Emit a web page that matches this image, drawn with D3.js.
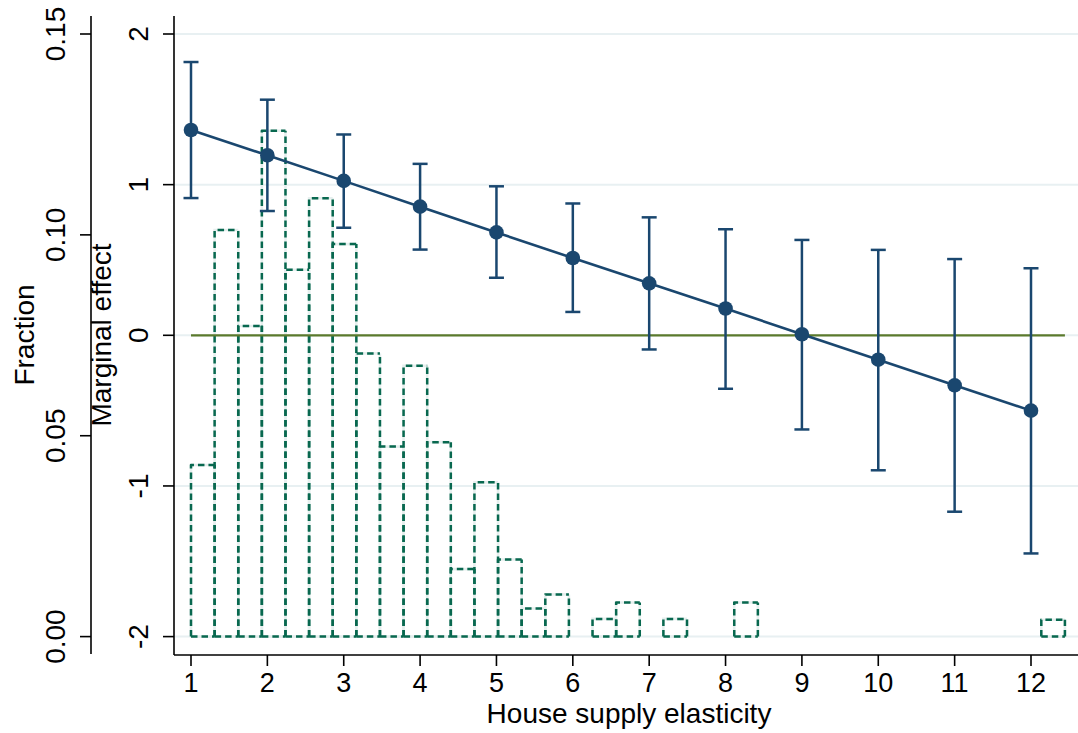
<!DOCTYPE html>
<html>
<head>
<meta charset="utf-8">
<script src="https://cdn.jsdelivr.net/npm/d3@7"></script>
<style>
  html, body { margin: 0; padding: 0; background: #fff; }
  svg { display: block; font-family: "Liberation Sans", Arial, Helvetica, sans-serif; }
</style>
</head>
<body>
<svg id="chart" width="1078" height="733"></svg>
<script>
// ---- data ----
const elasticity = [1, 2, 3, 4, 5, 6, 7, 8, 9, 10, 11, 12];
const marginalEffect = [1.363, 1.195, 1.025, 0.854, 0.683, 0.513, 0.345, 0.178, 0.007, -0.162, -0.332, -0.500];
const ciLower = [0.911, 0.825, 0.714, 0.569, 0.382, 0.155, -0.094, -0.355, -0.625, -0.896, -1.171, -1.448];
const ciUpper = [1.814, 1.564, 1.333, 1.138, 0.989, 0.875, 0.783, 0.704, 0.633, 0.567, 0.506, 0.445];

const histStart = 1;
const histBinWidth = 0.3093;
const histFraction = [
  0.0427, 0.1012, 0.0773, 0.1259, 0.0913, 0.1091, 0.0977, 0.0705, 0.0473, 0.0674,
  0.0484, 0.0168, 0.0384, 0.0192, 0.0070, 0.0105, 0.0000, 0.0044, 0.0085, 0.0000,
  0.0044, 0.0000, 0.0000, 0.0085, 0.0000, 0.0000, 0.0000, 0.0000, 0.0000, 0.0000,
  0.0000, 0.0000, 0.0000, 0.0000, 0.0000, 0.0000, 0.0042
];

const xTicks = [1, 2, 3, 4, 5, 6, 7, 8, 9, 10, 11, 12];
const meTicks = [-2, -1, 0, 1, 2];
const fracTicks = [0, 0.05, 0.10, 0.15];
const fracTickLabels = ["0.00", "0.05", "0.10", "0.15"];

// ---- layout ----
const svg = d3.select("#chart");
const plotLeft = 174, plotRight = 1078, plotTop = 16, plotBottom = 655;
const fracAxisX = 91;

const x = d3.scaleLinear().domain([1, 12]).range([191, 1031]);
const yME = d3.scaleLinear().domain([-2, 2]).range([636.6, 34]);
const yFrac = d3.scaleLinear().domain([0, 0.15]).range([636.6, 34]);

const navy = "#1a476f";
const histColor = "#08684f";
const zeroColor = "#5b7a2c";
const gridColor = "#e8f0f2";
const fontSize = 27;

// gridlines
svg.append("g").selectAll("line").data(meTicks).join("line")
  .attr("x1", plotLeft).attr("x2", plotRight)
  .attr("y1", d => yME(d)).attr("y2", d => yME(d))
  .attr("stroke", gridColor).attr("stroke-width", 2);

// histogram bars
const bins = histFraction.map((f, i) => ({
  x0: histStart + i * histBinWidth,
  x1: histStart + (i + 1) * histBinWidth,
  f: f
})).filter(b => b.f > 0);

// every vertical edge drawn bottom -> top so shared edges keep the same dash phase
const barPath = b => {
  const xa = x(b.x0), xb = x(b.x1), yt = yFrac(b.f), yb = yFrac(0);
  return `M${xa},${yb}L${xa},${yt}L${xb},${yt}` +
         `M${xb},${yb}L${xb},${yt}` +
         `M${xa},${yb}L${xb},${yb}`;
};
const hist = svg.append("g");
hist.selectAll("path.under").data(bins).join("path")
  .attr("class", "under")
  .attr("d", barPath)
  .attr("fill", "none").attr("stroke", "#e6efee").attr("stroke-width", 2.6);
hist.selectAll("path.bar").data(bins).join("path")
  .attr("class", "bar")
  .attr("d", barPath)
  .attr("fill", "none").attr("stroke", histColor).attr("stroke-width", 2.5)
  .attr("stroke-dasharray", "6.5,4").attr("stroke-linejoin", "round");

// zero line spanning histogram range
const histEnd = histStart + histFraction.length * histBinWidth;
svg.append("line")
  .attr("x1", x(histStart)).attr("x2", x(histEnd))
  .attr("y1", yME(0)).attr("y2", yME(0))
  .attr("stroke", zeroColor).attr("stroke-width", 2.2);

// error bars
const pts = elasticity.map((e, i) => ({ e, m: marginalEffect[i], lo: ciLower[i], hi: ciUpper[i] }));
const eb = svg.append("g").attr("stroke", navy).attr("stroke-width", 2.5);
eb.selectAll("line.v").data(pts).join("line").attr("class", "v")
  .attr("x1", d => x(d.e)).attr("x2", d => x(d.e))
  .attr("y1", d => yME(d.lo)).attr("y2", d => yME(d.hi));
eb.selectAll("line.t").data(pts).join("line").attr("class", "t")
  .attr("x1", d => x(d.e) - 7.5).attr("x2", d => x(d.e) + 7.5)
  .attr("y1", d => yME(d.hi)).attr("y2", d => yME(d.hi));
eb.selectAll("line.b").data(pts).join("line").attr("class", "b")
  .attr("x1", d => x(d.e) - 7.5).attr("x2", d => x(d.e) + 7.5)
  .attr("y1", d => yME(d.lo)).attr("y2", d => yME(d.lo));

// connecting line
svg.append("path").datum(pts)
  .attr("d", d3.line().x(d => x(d.e)).y(d => yME(d.m)))
  .attr("fill", "none").attr("stroke", navy).attr("stroke-width", 2.6);

// points
svg.append("g").selectAll("circle").data(pts).join("circle")
  .attr("cx", d => x(d.e)).attr("cy", d => yME(d.m)).attr("r", 7.3)
  .attr("fill", navy);

// ---- axes ----
const axisStroke = "#000";

// bottom x axis
const xAxis = svg.append("g");
xAxis.append("line").attr("x1", plotLeft).attr("x2", plotRight)
  .attr("y1", plotBottom).attr("y2", plotBottom)
  .attr("stroke", axisStroke).attr("stroke-width", 1.6);
xAxis.selectAll("line.tick").data(xTicks).join("line").attr("class", "tick")
  .attr("x1", d => x(d)).attr("x2", d => x(d))
  .attr("y1", plotBottom).attr("y2", plotBottom + 11)
  .attr("stroke", axisStroke).attr("stroke-width", 1.6);
xAxis.selectAll("text").data(xTicks).join("text")
  .attr("x", d => x(d)).attr("y", 692)
  .attr("text-anchor", "middle").attr("font-size", fontSize)
  .text(d => d);
svg.append("text").attr("x", (plotLeft + plotRight) / 2 + 3).attr("y", 723)
  .attr("text-anchor", "middle").attr("font-size", 28)
  .text("House supply elasticity");

// marginal effect axis (inner)
const meAxis = svg.append("g");
meAxis.append("line").attr("x1", plotLeft).attr("x2", plotLeft)
  .attr("y1", plotTop).attr("y2", plotBottom)
  .attr("stroke", axisStroke).attr("stroke-width", 1.6);
meAxis.selectAll("line.tick").data(meTicks).join("line").attr("class", "tick")
  .attr("x1", plotLeft - 11).attr("x2", plotLeft)
  .attr("y1", d => yME(d)).attr("y2", d => yME(d))
  .attr("stroke", axisStroke).attr("stroke-width", 1.6);
meAxis.selectAll("text").data(meTicks).join("text")
  .attr("transform", d => `translate(148,${yME(d)}) rotate(-90)`)
  .attr("text-anchor", "middle").attr("font-size", 28)
  .text(d => d < 0 ? "-" + Math.abs(d) : d);
svg.append("text")
  .attr("transform", `translate(111,335) rotate(-90)`)
  .attr("text-anchor", "middle").attr("font-size", 28)
  .text("Marginal effect");

// fraction axis (outer)
const frAxis = svg.append("g");
frAxis.append("line").attr("x1", fracAxisX).attr("x2", fracAxisX)
  .attr("y1", plotTop).attr("y2", plotBottom - 1)
  .attr("stroke", axisStroke).attr("stroke-width", 1.6);
frAxis.selectAll("line.tick").data(fracTicks).join("line").attr("class", "tick")
  .attr("x1", fracAxisX - 11).attr("x2", fracAxisX)
  .attr("y1", d => yFrac(d)).attr("y2", d => yFrac(d))
  .attr("stroke", axisStroke).attr("stroke-width", 1.6);
frAxis.selectAll("text").data(fracTicks).join("text")
  .attr("transform", d => `translate(65,${yFrac(d)}) rotate(-90)`)
  .attr("text-anchor", "middle").attr("font-size", 28)
  .text((d, i) => fracTickLabels[i]);
svg.append("text")
  .attr("transform", `translate(33.5,335) rotate(-90)`)
  .attr("text-anchor", "middle").attr("font-size", 28)
  .text("Fraction");
</script>
</body>
</html>
